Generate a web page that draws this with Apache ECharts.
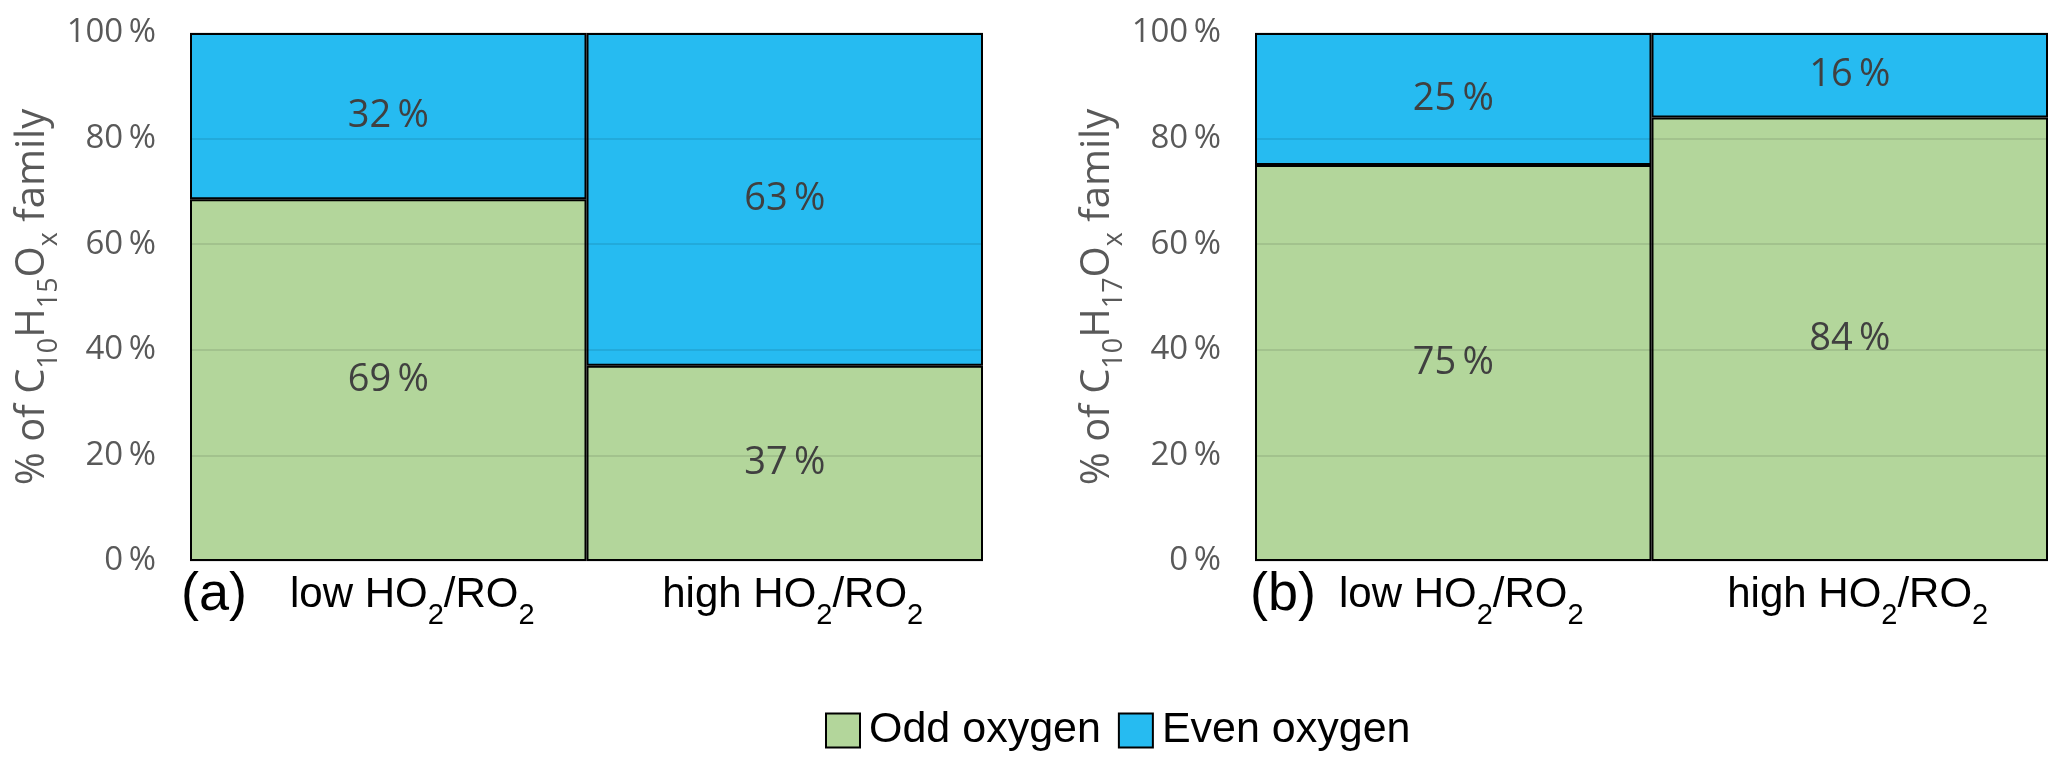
<!DOCTYPE html>
<html>
<head>
<meta charset="utf-8">
<script src="https://cdn.jsdelivr.net/npm/echarts@6/dist/echarts.min.js"></script>
<style>
html,body{margin:0;padding:0;background:#fff;}
#main{width:2067px;height:767px;}
</style>
</head>
<body>
<div id="main"></div>
<script>
// ---- data ----
const categories = ['low HO2/RO2', 'high HO2/RO2'];
const seriesNames = ['Odd oxygen', 'Even oxygen'];
// panel (a): C10H15Ox family
const oddA = [68.5, 37];
const evenA = [31.5, 63];
// panel (b): C10H17Ox family
const oddB = [75, 84];
const evenB = [25, 16];
const panelTags = ['(a)', '(b)'];
const yTitles = [
  '{m|% of C}{s|10}{m|H}{s|15}{m|O}{s|x}{m| family}',
  '{m|% of C}{s|10}{m|H}{s|17}{m|O}{s|x}{m| family}'
];

const GREEN = '#b3d69b';
const BLUE = '#26bbf1';
const TICKFONT = '"Open Sans", "Noto Sans", sans-serif';
const ARIAL = '"Liberation Sans", Arial, sans-serif';
const THIN = '\u2009';

function subRich(s) {
  return s.split(/(\d+)/).map((p, i) => {
    if (!p) return '';
    return i % 2 ? '{s|' + p + '}' : '{m|' + p + '}';
  }).join('');
}

const chart = echarts.init(document.getElementById('main'));

const grids = [
  {left: 190, top: 33, width: 793, height: 528},
  {left: 1255, top: 33, width: 793, height: 528}
];
// horizontal shift (label padding) per panel and category
const padW = [[48, 16], [16, 16]];

function xAxis(i) {
  return {
    type: 'category', gridIndex: i, data: categories,
    axisLine: {show: false}, axisTick: {show: false},
    axisLabel: {
      margin: 13,
      formatter: (v, idx) => '{p' + padW[i][idx] + '| }' + subRich(v),
      rich: {
        m: {fontFamily: ARIAL, fontSize: 42, color: '#000', lineHeight: 48, verticalAlign: 'top'},
        s: {fontFamily: ARIAL, fontSize: 29, color: '#000', lineHeight: 29, verticalAlign: 'top', padding: [27, 0, 0, 0]},
        p48: {width: 48, fontSize: 10, lineHeight: 10, verticalAlign: 'top'},
        p16: {width: 16, fontSize: 10, lineHeight: 10, verticalAlign: 'top'}
      }
    }
  };
}
function yAxis(i) {
  return {
    type: 'value', gridIndex: i, min: 0, max: 100, interval: 20, z: 3,
    axisLine: {show: false}, axisTick: {show: false},
    splitLine: {show: true, lineStyle: {color: 'rgba(0,0,0,0.09)', width: 2}},
    axisLabel: {margin: 34, formatter: '{value}' + THIN + '%', fontFamily: TICKFONT, fontSize: 33, color: '#595959'},
    name: yTitles[i], nameLocation: 'middle', nameRotate: 90, nameGap: 123,
    nameTextStyle: {
      rich: {
        m: {fontFamily: TICKFONT, fontSize: 40, color: '#595959', lineHeight: 46, verticalAlign: 'top'},
        s: {fontFamily: TICKFONT, fontSize: 27, color: '#595959', lineHeight: 27, verticalAlign: 'top', padding: [23, 0, 0, 0]}
      }
    }
  };
}
function bar(name, data, color, i) {
  return {
    name: name, type: 'bar', stack: 'p' + i, xAxisIndex: i, yAxisIndex: i,
    data: data, barCategoryGap: 0, barGap: 0,
    itemStyle: {color: color, borderColor: '#000', borderWidth: 2},
    label: {
      show: true, position: 'inside',
      formatter: p => Math.round(p.value) + THIN + '%',
      fontFamily: TICKFONT, fontSize: 38, color: '#404040'
    },
    emphasis: {disabled: true}
  };
}

chart.setOption({
  animation: false,
  backgroundColor: '#fff',
  grid: grids,
  xAxis: [xAxis(0), xAxis(1)],
  yAxis: [yAxis(0), yAxis(1)],
  legend: {
    data: seriesNames, left: 820, top: 704, itemWidth: 34, itemHeight: 34, itemGap: 17,
    icon: 'rect',
    textStyle: {fontFamily: ARIAL, fontSize: 43, color: '#000', padding: [0, 0, 0, 4]}
  },
  graphic: [
    {type: 'text', left: 181, top: 568, style: {text: panelTags[0], font: '54px "Liberation Sans", Arial, sans-serif', fill: '#000'}},
    {type: 'text', left: 1250, top: 568, style: {text: panelTags[1], font: '54px "Liberation Sans", Arial, sans-serif', fill: '#000'}}
  ],
  series: [
    bar(seriesNames[0], oddA, GREEN, 0),
    bar(seriesNames[1], evenA, BLUE, 0),
    bar(seriesNames[0], oddB, GREEN, 1),
    bar(seriesNames[1], evenB, BLUE, 1)
  ]
});
</script>
</body>
</html>
